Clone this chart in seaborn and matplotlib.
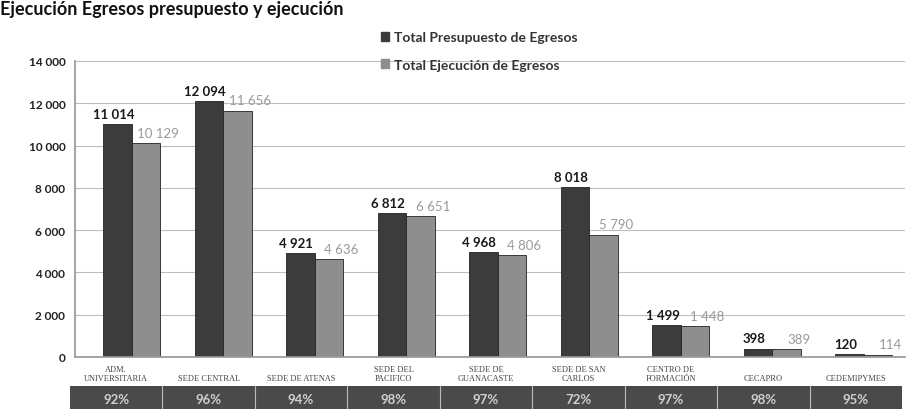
import numpy as np
import pandas as pd
import matplotlib
matplotlib.use("Agg")
import matplotlib.pyplot as plt
import seaborn as sns
from matplotlib.patches import Patch
from matplotlib.ticker import FuncFormatter

# Datos
sedes = ["ADM.\nUNIVERSITARIA", "SEDE CENTRAL", "SEDE DE ATENAS", "SEDE DEL\nPACIFICO",
         "SEDE DE\nGUANACASTE", "SEDE DE SAN\nCARLOS", "CENTRO DE\nFORMACIÓN",
         "CECAPRO", "CEDEMIPYMES"]
presupuesto = [11014, 12094, 4921, 6812, 4968, 8018, 1499, 398, 120]
ejecucion = [10129, 11656, 4636, 6651, 4806, 5790, 1448, 389, 114]
porcentajes = ["92%", "96%", "94%", "98%", "97%", "72%", "97%", "98%", "95%"]
series = ["Total Presupuesto de Egresos", "Total Ejecución de Egresos"]

df = pd.DataFrame({
    "sede": sedes * 2,
    "serie": [series[0]] * len(sedes) + [series[1]] * len(sedes),
    "monto": presupuesto + ejecucion,
})

sns.set_theme(style="white")
plt.rcParams["font.family"] = ["Lato", "DejaVu Sans"]

colores = ["#3c3c3c", "#8e8e8e"]

fig = plt.figure(figsize=(9.11, 4.10), dpi=100)
ax = fig.add_axes([75 / 911, 1 - 358 / 410, 830 / 911, 296 / 410])

sns.barplot(data=df, x="sede", y="monto", hue="serie", palette=colores,
            width=0.62, ax=ax, legend=False, edgecolor="#222222", linewidth=0.6)

def fmt_num(v, pos=None):
    return f"{int(round(v)):,}".replace(",", " ")

lab1 = ax.bar_label(ax.containers[0], labels=[fmt_num(v) for v in presupuesto],
                    fontsize=9.5, fontweight="bold", color="#1a1a1a", padding=2)
lab2 = ax.bar_label(ax.containers[1], labels=[fmt_num(v) for v in ejecucion],
                    fontsize=9.5, color="#9a9a9a", padding=2)
for t in lab1:
    t.set_position((-3, 3))
for t in lab2:
    t.set_position((9, 3))

ax.set_ylim(0, 14000)
ax.set_xlim(-0.62, 8.45)
ax.set_yticks(np.arange(0, 14001, 2000))
ax.yaxis.set_major_formatter(FuncFormatter(fmt_num))
ax.tick_params(axis="y", labelsize=8.5, colors="#222222", length=3, pad=4)
for t in ax.get_yticklabels():
    t.set_fontweight("bold")
ax.set_xticks([])
ax.set_xlabel("")
ax.set_ylabel("")
ax.grid(axis="y", color="#bdbdbd", linewidth=0.8)
ax.set_axisbelow(True)
for s in ["top", "right"]:
    ax.spines[s].set_visible(False)
ax.spines["left"].set_color("#999999")
ax.spines["bottom"].set_color("#999999")

# Franja inferior con porcentajes de ejecución
ax2 = fig.add_axes([70 / 911, 0, 832 / 911, 23 / 410])
ax2.set_xlim(-0.5, 8.5)
ax2.set_ylim(0, 1)
ax2.set_facecolor("#4a4a4a")
for i in range(1, len(sedes)):
    ax2.axvline(i - 0.5, color="#bbbbbb", linewidth=0.8)
for i, p in enumerate(porcentajes):
    ax2.text(i, 0.45, p, ha="center", va="center", color="#d0d0d0",
             fontsize=9.5, fontweight="bold")
ax2.set_yticks([])
ax2.set_xticks(range(len(sedes)))
ax2.set_xticklabels(sedes)
ax2.xaxis.tick_top()
ax2.tick_params(axis="x", length=0, labelsize=6, colors="#444444", pad=3)
for t in ax2.get_xticklabels():
    t.set_family(["Liberation Serif", "DejaVu Serif"])
    t.set_va("bottom")
for s in ax2.spines.values():
    s.set_visible(False)

# Leyenda
handles = [Patch(facecolor=c, edgecolor=c) for c in colores]
leg = fig.legend(handles, series, loc="upper left",
                 bbox_to_anchor=(368 / 911, 1 - 20 / 410), frameon=False,
                 labelspacing=1.1, handlelength=0.6, handleheight=0.6,
                 handletextpad=0.4, fontsize=10)
for t in leg.get_texts():
    t.set_fontweight("bold")
    t.set_color("#333333")

# Título (en el original aparece recortado en el borde superior)
fig.text(0.0, 0.998, "Ejecución Egresos presupuesto y ejecución", fontsize=13,
         fontweight="bold", color="#111111", va="top", ha="left")

fig.savefig("out.png", dpi=100)
plt.close(fig)
